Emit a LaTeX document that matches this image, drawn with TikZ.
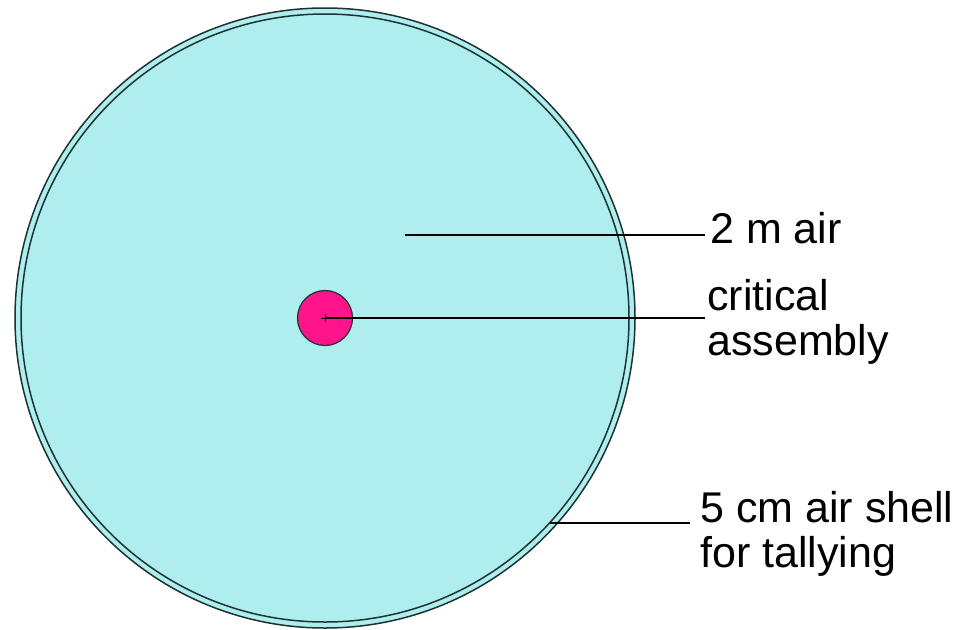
\documentclass[tikz,border=0pt]{standalone}
\usepackage{fontspec}
\setmainfont{Liberation Sans}
\definecolor{airfill}{RGB}{175,238,238}
\definecolor{edge}{RGB}{30,50,50}
\definecolor{core}{RGB}{255,20,140}
\begin{document}
\begin{tikzpicture}[x=1pt,y=-1pt,
  shellcircle/.style={draw=edge,line width=1.5pt,fill=airfill},
  leader/.style={draw=black,line width=2pt},
  label/.style={anchor=base west,inner sep=0pt,align=left,font=\fontsize{43}{45}\selectfont}]
\useasboundingbox (0,0) rectangle (971,629);
\fill[white] (0,0) rectangle (971,629);
% circles
\node[shellcircle,circle,minimum size=620pt,inner sep=0pt] (outer) at (325,318) {};
\node[shellcircle,circle,minimum size=608pt,inner sep=0pt] (inner) at (325,318) {};
\node[circle,draw=edge,line width=1.2pt,fill=core,minimum size=55pt,inner sep=0pt] (core) at (325,318) {};
\draw[black,line width=1pt] (321,318) -- (329,318) (325,314) -- (325,322);
% labels (anchored at the baseline of their last line)
\node[label] (lair) at (710,243) {2 m air};
\node[label] (lcore) at (707,355) {critical\\assembly};
\node[label] (lshell) at (700,567) {5 cm air shell\\for tallying};
% leader endpoints
\coordinate (a1) at (405,235);
\coordinate (a2) at (705,235);
\coordinate (c2) at (705,318);
\coordinate (s1) at (550,523);
\coordinate (s2) at (690,523);
\draw[leader] (a1) -- (a2);
\draw[leader] (core.center) -- (c2);
\draw[leader] (s1) -- (s2);
\end{tikzpicture}
\end{document}
